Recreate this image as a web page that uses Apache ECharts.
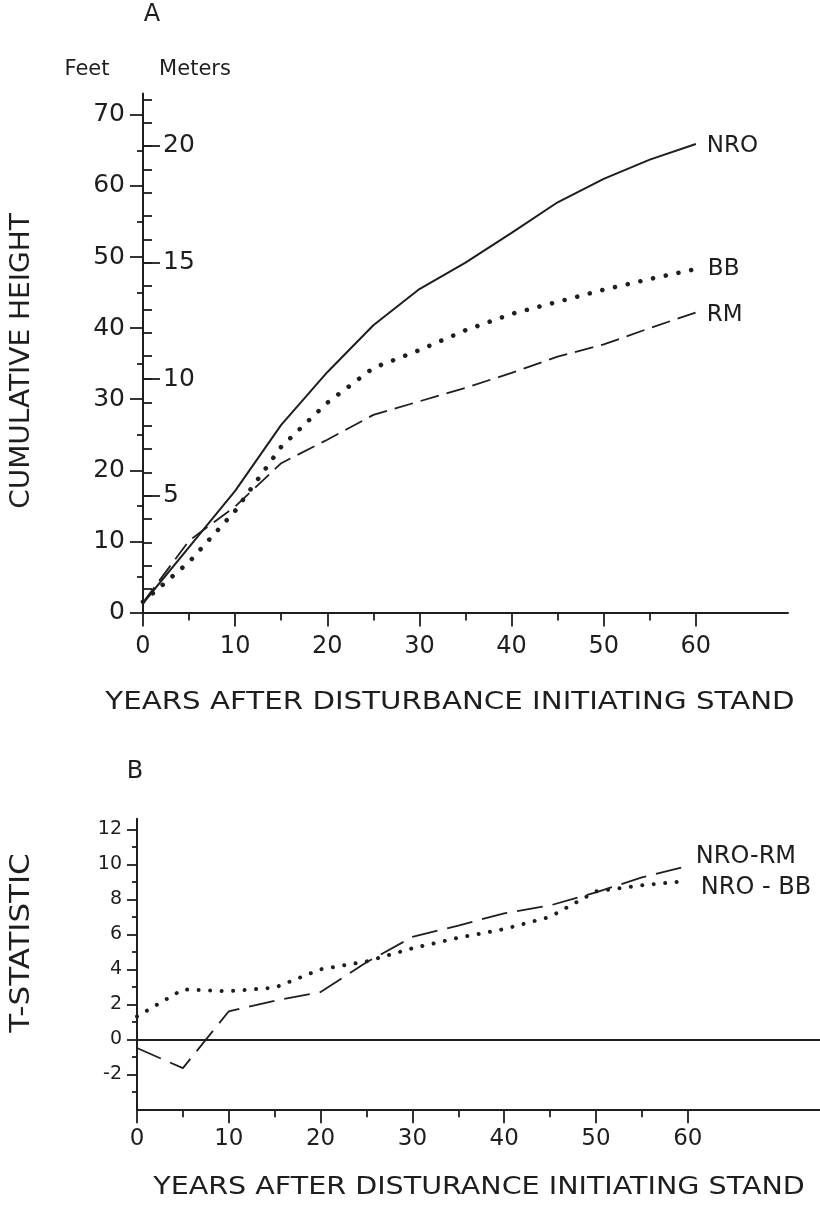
<!DOCTYPE html>
<html><head><meta charset="utf-8">
<script src="https://cdn.jsdelivr.net/npm/echarts@6/dist/echarts.min.js"></script>
<style>html,body{margin:0;padding:0;background:#fff}#c{width:820px;height:1215px}</style>
</head><body><div id="c"></div>
<script>
// ---- data ----
const years = [0, 5, 10, 15, 20, 25, 30, 35, 40, 45, 50, 55, 60];
// Panel A: cumulative height, feet
const nro = [1.3, 9.2, 17.1, 26.4, 33.8, 40.4, 45.5, 49.2, 53.4, 57.7, 61.0, 63.7, 65.9];
const bb  = [1.5, 7.1, 14.3, 23.3, 29.5, 34.4, 36.9, 39.7, 42.0, 43.7, 45.4, 46.9, 48.3];
const rm  = [1.4, 10.1, 14.9, 21.0, 24.3, 27.8, 29.7, 31.6, 33.7, 36.0, 37.7, 40.0, 42.2];
// Panel B: t-statistic
const nroRm = [-0.5, -1.65, 1.6, 2.2, 2.7, 4.4, 5.85, 6.5, 7.2, 7.65, 8.4, 9.25, 9.9];
const nroBb = [1.3, 2.85, 2.75, 2.95, 4.0, 4.45, 5.2, 5.8, 6.3, 7.0, 8.45, 8.8, 9.05];
// tick labels
const yearLabels = [0, 10, 20, 30, 40, 50, 60];
const feetLabels = [0, 10, 20, 30, 40, 50, 60, 70];
const meterLabels = [5, 10, 15, 20];
const tLabels = [-2, 0, 2, 4, 6, 8, 10, 12];

function range(a, b, s) { const r = []; for (let v = a; v <= b + 1e-9; v += s) r.push(v); return r; }
const INK = '#1e1e1e';
const FONT = '"DejaVu Sans", sans-serif';
const FT_PER_M = 3.28084;
const A_FT_MAX = 73, A_YR_MAX = 70, B_YR_MAX = 74.4, B_T_MIN = -4, B_T_MAX = 12.6;

function ax(base, o) { return Object.assign({
  type: 'value', splitLine: {show: false},
  axisLine: {show: false, onZero: false, lineStyle: {color: INK, width: 2}},
  axisTick: {show: false}, axisLabel: {show: false}
}, base, o); }
function ticks(values, len, inside) { return {show: true, customValues: values, length: len, inside: !!inside, lineStyle: {color: INK, width: 1.8}}; }
function labels(values, margin, size, inside) { return {show: true, customValues: values, margin: margin, inside: !!inside,
  fontSize: size, fontFamily: FONT, color: INK}; }

const xAxes = [
  ax({gridIndex: 0, position: 'bottom', min: 0, max: A_YR_MAX}, {
    axisLine: {show: true, onZero: false, lineStyle: {color: INK, width: 2}},
    axisTick: ticks(yearLabels, 14), axisLabel: labels(yearLabels, 22, 24)}),
  ax({gridIndex: 0, position: 'bottom', min: 0, max: A_YR_MAX}, {axisTick: ticks(range(5, 55, 10), 8)}),
  ax({gridIndex: 1, position: 'bottom', min: 0, max: B_YR_MAX}, {
    axisLine: {show: true, onZero: false, lineStyle: {color: INK, width: 2}},
    axisTick: ticks(yearLabels, 14), axisLabel: labels(yearLabels, 18, 23)}),
  ax({gridIndex: 1, position: 'bottom', min: 0, max: B_YR_MAX}, {axisTick: ticks(range(5, 55, 10), 8)})
];
const yAxes = [
  ax({gridIndex: 0, position: 'left', min: 0, max: A_FT_MAX}, {
    axisLine: {show: true, onZero: false, lineStyle: {color: INK, width: 2}},
    axisTick: ticks(feetLabels, 13), axisLabel: labels(feetLabels, 18, 25)}),
  ax({gridIndex: 0, position: 'left', min: 0, max: A_FT_MAX}, {axisTick: ticks(range(5, 65, 10), 6)}),
  ax({gridIndex: 0, position: 'left', min: 0, max: A_FT_MAX / FT_PER_M}, {axisTick: ticks(range(1, 22, 1), 9, true)}),
  ax({gridIndex: 0, position: 'left', min: 0, max: A_FT_MAX / FT_PER_M}, {
    axisTick: ticks(meterLabels, 17, true), axisLabel: labels(meterLabels, 20, 25, true)}),
  ax({gridIndex: 1, position: 'left', min: B_T_MIN, max: B_T_MAX}, {
    axisLine: {show: true, onZero: false, lineStyle: {color: INK, width: 2}},
    axisTick: ticks(tLabels, 10), axisLabel: labels(tLabels, 15, 19)}),
  ax({gridIndex: 1, position: 'left', min: B_T_MIN, max: B_T_MAX}, {axisTick: ticks(range(-3, 11, 2), 5)})
];

function pairs(vals) { return years.map((y, i) => [y, vals[i]]); }
function endLab(size, offset, dist) { return {show: true, formatter: '{a}', fontSize: size, fontFamily: FONT, color: INK,
  distance: dist, offset: offset || [0, 0]}; }
const solid = {color: INK, width: 2, type: 'solid'};
const dotsA = {color: INK, width: 4.6, type: [0.01, 13], cap: 'round'};
const dashA = {color: INK, width: 1.8, type: [19, 8]};
const dotsB = {color: INK, width: 4, type: [0.01, 11.5], cap: 'round'};
const dashB = {color: INK, width: 1.8, type: [26, 10]};

const series = [
  {name: 'NRO', type: 'line', xAxisIndex: 0, yAxisIndex: 0, data: pairs(nro), showSymbol: false, symbol: 'none',
   lineStyle: solid, endLabel: endLab(23, [0, 2], 11)},
  {name: 'BB', type: 'line', xAxisIndex: 0, yAxisIndex: 0, data: pairs(bb), showSymbol: false, symbol: 'none',
   lineStyle: dotsA, endLabel: endLab(23, [0, 0], 12)},
  {name: 'RM', type: 'line', xAxisIndex: 0, yAxisIndex: 0, data: pairs(rm), showSymbol: false, symbol: 'none',
   lineStyle: dashA, endLabel: endLab(23, [0, 3], 11)},
  {name: 'NRO-RM', type: 'line', xAxisIndex: 2, yAxisIndex: 4, data: pairs(nroRm), showSymbol: false, symbol: 'none',
   lineStyle: dashB, endLabel: endLab(24, [0, -9], 8),
   markLine: {silent: true, symbol: ['none', 'none'], label: {show: false}, animation: false,
     lineStyle: {color: INK, width: 2, type: 'solid'}, emphasis: {disabled: true}, data: [{yAxis: 0}]}},
  {name: 'NRO - BB', type: 'line', xAxisIndex: 2, yAxisIndex: 4, data: pairs(nroBb), showSymbol: false, symbol: 'none',
   lineStyle: dotsB, endLabel: endLab(24, [0, 7], 13)}
];

function txt(text, x, y, size, rot, sx) {
  return {type: 'text', x: x, y: y, rotation: rot || 0, scaleX: sx || 1, silent: true,
    style: {text: text, fontSize: size, fontFamily: FONT, fill: INK,
      textAlign: 'center', textVerticalAlign: 'middle', align: 'center', verticalAlign: 'middle'}};
}

const chart = echarts.init(document.getElementById('c'), null, {renderer: 'canvas'});
chart.setOption({
  backgroundColor: '#ffffff',
  animation: false,
  grid: [
    {left: 143, top: 93.5, width: 645, height: 519},
    {left: 137, top: 818.8, width: 683, height: 290.5}
  ],
  xAxis: xAxes,
  yAxis: yAxes,
  series: series,
  graphic: [
    txt('A', 152, 15, 24),
    txt('Feet', 87, 70, 21),
    txt('Meters', 195, 70, 21),
    txt('CUMULATIVE HEIGHT', 22, 361, 26, Math.PI / 2, 1.076),
    txt('YEARS AFTER DISTURBANCE INITIATING STAND', 450, 703, 24, 0, 1.22),
    txt('B', 135, 772, 24),
    txt('T-STATISTIC', 22, 943, 26, Math.PI / 2, 1.19),
    txt('YEARS AFTER DISTURANCE INITIATING STAND', 479, 1188, 24, 0, 1.19)
  ]
});
</script></body></html>
